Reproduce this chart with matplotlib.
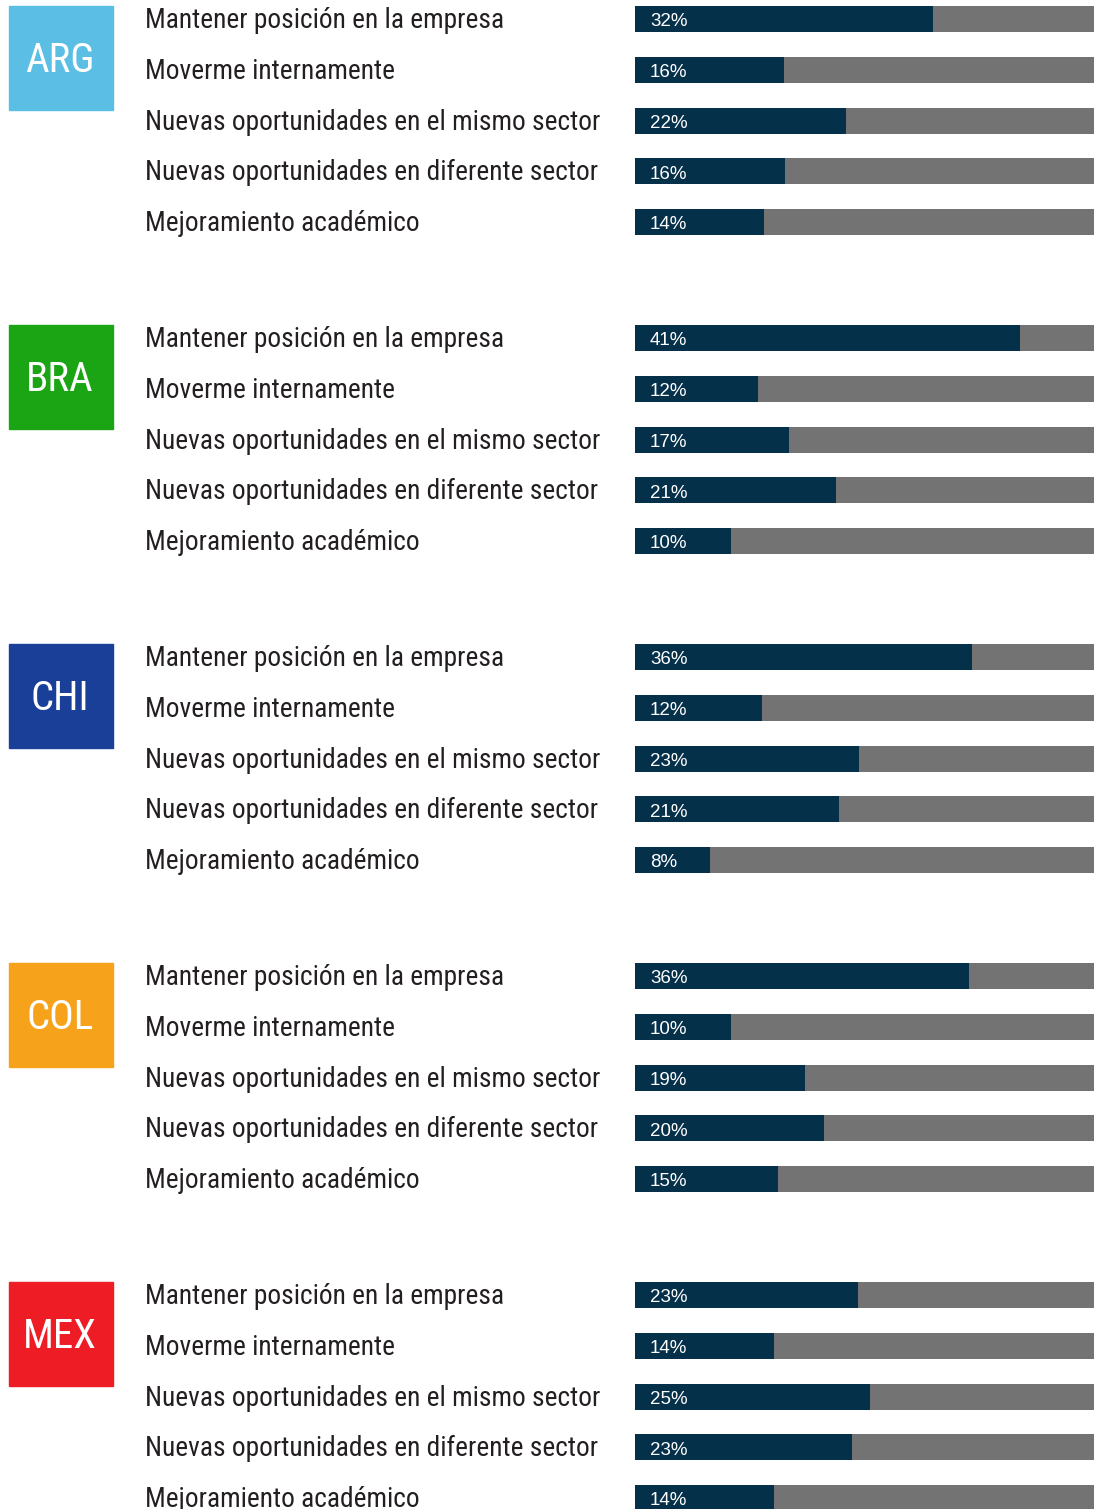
import matplotlib
matplotlib.use("Agg")
import matplotlib.pyplot as plt
from matplotlib.patches import Rectangle
from matplotlib import font_manager as fm
import matplotlib.transforms as mtransforms

countries = ["ARG", "BRA", "CHI", "COL", "MEX"]
country_colors = ["#5bbee5", "#1ba515", "#1a3f98", "#f7a21b", "#ee1c25"]
categories = [
    "Mantener posición en la empresa",
    "Moverme internamente",
    "Nuevas oportunidades en el mismo sector",
    "Nuevas oportunidades en diferente sector",
    "Mejoramiento académico",
]
# printed (rounded) percentages
arg = [32, 16, 22, 16, 14]
bra = [41, 12, 17, 21, 10]
chi = [36, 12, 23, 21, 8]
col = [36, 10, 19, 20, 15]
mex = [23, 14, 25, 23, 14]
labels = [arg, bra, chi, col, mex]
# bar lengths as drawn in the source (they don't match the rounded labels exactly)
arg_len = [31.7, 15.85, 22.45, 15.96, 13.72]
bra_len = [40.96, 13.09, 16.38, 21.38, 10.21]
chi_len = [35.85, 13.51, 23.83, 21.70, 7.98]
col_len = [35.53, 10.21, 18.09, 20.11, 15.21]
mex_len = [23.72, 14.79, 25.0, 23.09, 14.79]
lengths = [arg_len, bra_len, chi_len, col_len, mex_len]
x_max = 48.83


def pick_condensed():
    # narrowest regular face we can find on this machine
    narrow = ("condensed", "semi-condensed", "extra-condensed", "ultra-condensed")
    cands = []
    for f in fm.fontManager.ttflist:
        nm = f.name.lower()
        path = f.fname.lower()
        is_narrow = (str(f.stretch) in narrow or "condensed" in nm or "narrow" in nm
                     or "condensed" in path or "narrow" in path)
        if not is_narrow or f.style != "normal":
            continue
        if "bold" in path or "oblique" in path or "italic" in path or "light" in path:
            continue
        rank = 9
        for i, key in enumerate(["roboto", "liberation", "open", "noto", "dejavu"]):
            if key in nm:
                rank = i
                break
        cands.append((rank, f.fname))
    if cands:
        return fm.FontProperties(fname=sorted(cands)[0][1])
    return fm.FontProperties(family="DejaVu Sans")


cond = pick_condensed()

W, H = 1100, 1509
fig = plt.figure(figsize=(W / 100, H / 100), dpi=100)
renderer = fig.canvas.get_renderer()


def fit_size(text_obj, target_px, max_size):
    text_obj.set_fontsize(20)
    w = text_obj.get_window_extent(renderer).width
    text_obj.set_fontsize(min(max_size, 20 * target_px / w))


row_gap = 50.8
group_gap = 319
first_center = 19
bar_left, bar_right = 635, 1094

label_texts = []
for g, (cty, ccol, labs, lens) in enumerate(zip(countries, country_colors, labels, lengths)):
    c0 = first_center + g * group_gap
    top = c0 - row_gap / 2
    ax = fig.add_axes([bar_left / W, 1 - (top + 5 * row_gap) / H,
                       (bar_right - bar_left) / W, 5 * row_gap / H])
    ax.set_xlim(0, x_max)
    ax.set_ylim(4.5, -0.5)
    ax.axis("off")
    ys = list(range(len(categories)))
    ax.barh(ys, [x_max] * len(ys), height=0.512, color="#737373", left=0)
    ax.barh(ys, lens, height=0.512, color="#05304a", left=0)
    for y, v in zip(ys, labs):
        ax.text(1.6, y + 0.14, f"{v}%", color="white", fontsize=13.5,
                va="baseline", ha="left", family="Liberation Sans")
    tr = mtransforms.blended_transform_factory(fig.transFigure, ax.transData)
    for y, cat in zip(ys, categories):
        t = ax.text(145 / W, y + 0.178, cat, transform=tr, color="#231f20",
                    fontproperties=cond, va="baseline", ha="left")
        label_texts.append(t)
    box_top = c0 - 13
    fig.patches.append(Rectangle((9 / W, 1 - (box_top + 104) / H), 104 / W, 104 / H,
                                 transform=fig.transFigure, color=ccol, zorder=0))
    fig.text(60 / W, 1 - (box_top + 66) / H, cty, color="white", fontsize=29.5,
             fontproperties=cond, ha="center", va="baseline")

# size the condensed labels so the longest one spans the same width as in the source
fit_size(label_texts[2], 454, 21)
size = label_texts[2].get_fontsize()
for t in label_texts:
    t.set_fontsize(size)
for t in fig.texts:
    t.set_fontsize(29.5)

fig.savefig("out.png", dpi=100, facecolor="white")
